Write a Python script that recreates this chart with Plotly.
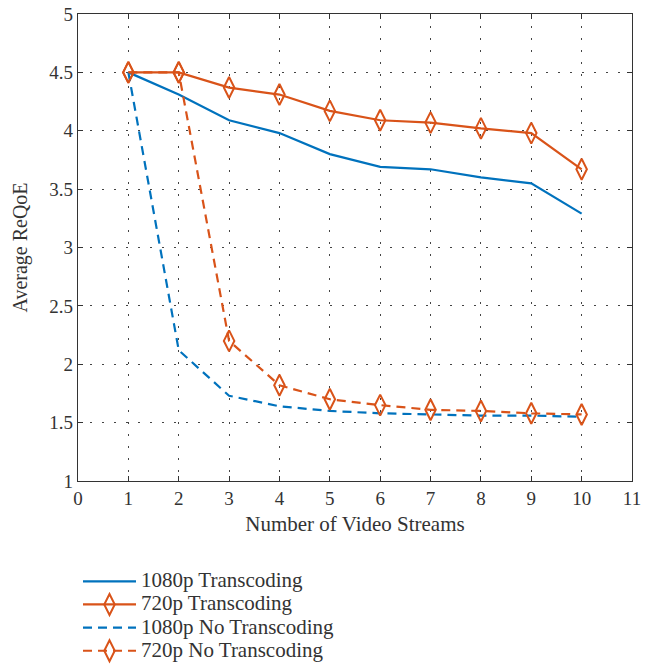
import plotly.graph_objects as go

x_streams = [1, 2, 3, 4, 5, 6, 7, 8, 9, 10]
y_1080_trans = [4.50, 4.31, 4.09, 3.98, 3.80, 3.69, 3.67, 3.60, 3.55, 3.29]
y_720_trans = [4.50, 4.50, 4.37, 4.31, 4.17, 4.09, 4.07, 4.02, 3.98, 3.67]
y_1080_notrans = [4.50, 2.12, 1.73, 1.64, 1.60, 1.58, 1.57, 1.56, 1.56, 1.55]
y_720_notrans = [4.50, 4.50, 2.20, 1.82, 1.70, 1.65, 1.61, 1.60, 1.58, 1.57]

series_names = ["1080p Transcoding", "720p Transcoding",
                "1080p No Transcoding", "720p No Transcoding"]

x_ticks = list(range(0, 12))
y_ticks = [1, 1.5, 2, 2.5, 3, 3.5, 4, 4.5, 5]
y_tick_labels = ["1", "1.5", "2", "2.5", "3", "3.5", "4", "4.5", "5"]

BLUE = "#0072BD"
ORANGE = "#D95319"
FONT = "Liberation Serif"
TXT = "#333333"


def legend_name(s):
    return '<span style="font-size:21px">%s</span>' % s


marker_style = dict(symbol="diamond-tall-open", size=15,
                    line=dict(color=ORANGE, width=2))

fig = go.Figure()
fig.add_trace(go.Scatter(x=x_streams, y=y_1080_trans, mode="lines",
                         name=legend_name(series_names[0]),
                         line=dict(color=BLUE, width=2.2)))
fig.add_trace(go.Scatter(x=x_streams, y=y_720_trans, mode="lines+markers",
                         name=legend_name(series_names[1]),
                         line=dict(color=ORANGE, width=2.2),
                         marker=marker_style))
fig.add_trace(go.Scatter(x=x_streams, y=y_1080_notrans, mode="lines",
                         name=legend_name(series_names[2]),
                         line=dict(color=BLUE, width=2.2, dash="9px,6px")))
fig.add_trace(go.Scatter(x=x_streams, y=y_720_notrans, mode="lines+markers",
                         name=legend_name(series_names[3]),
                         line=dict(color=ORANGE, width=2.2, dash="9px,6px"),
                         marker=marker_style))

axis_common = dict(
    showline=True, linecolor=TXT, linewidth=1.2, mirror="ticks",
    ticks="inside", ticklen=5, tickcolor=TXT,
    showgrid=True, gridcolor="#444444", griddash="2px,10px", gridwidth=1,
    zeroline=False, automargin=False, ticklabeloverflow="allow",
    tickfont=dict(family=FONT, size=19, color=TXT),
)

fig.update_xaxes(range=[0, 11], tickvals=x_ticks,
                 title=dict(text="Number of Video Streams", standoff=8,
                            font=dict(family=FONT, size=21, color=TXT)),
                 **axis_common)
fig.update_yaxes(range=[1, 5], tickvals=y_ticks, ticktext=y_tick_labels,
                 title=dict(text="Average ReQoE", standoff=16,
                            font=dict(family=FONT, size=20, color=TXT)),
                 **axis_common)

fig.update_layout(
    width=654, height=665,
    margin=dict(l=78, r=22, t=14, b=184, autoexpand=False),
    plot_bgcolor="white", paper_bgcolor="white",
    font=dict(family=FONT, color=TXT),
    legend=dict(x=0, y=0.1508, xref="paper", yref="container",
                xanchor="left", yanchor="top",
                font=dict(family=FONT, size=15.5, color=TXT),
                bgcolor="rgba(0,0,0,0)", tracegroupgap=0, itemwidth=53),
    showlegend=True,
)

fig.write_html("out.html",
               config={"displayModeBar": False},
               post_script="document.body.style.margin='0px';")
